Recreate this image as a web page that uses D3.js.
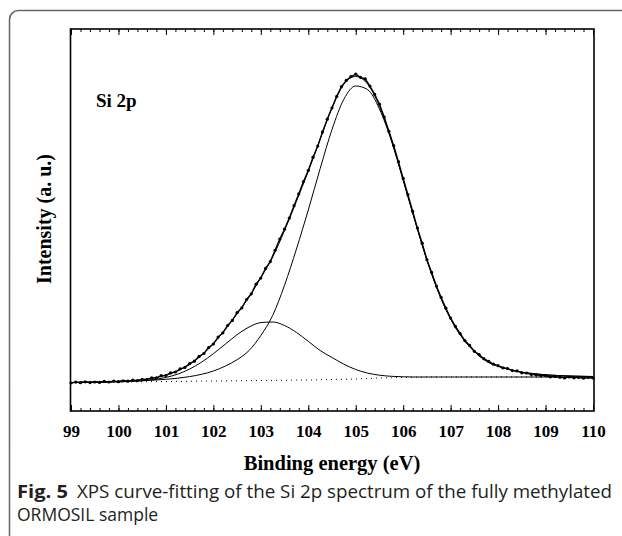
<!DOCTYPE html>
<html>
<head>
<meta charset="utf-8">
<script src="https://cdn.jsdelivr.net/npm/d3@7"></script>
<style>
  body { margin: 0; background: #fff; }
  svg { display: block; }
</style>
</head>
<body>
<svg id="chart"></svg>
<script>
// binding energy grid for the fitted curves (eV)
var fitEnergy = [99, 99.25, 99.5, 99.75, 100, 100.25, 100.5, 100.75, 101, 101.25, 101.5, 101.75,
  102, 102.25, 102.5, 102.75, 103, 103.25, 103.5, 103.75, 104, 104.25, 104.5, 104.75,
  105, 105.25, 105.5, 105.75, 106, 106.25, 106.5, 106.75, 107, 107.25, 107.5, 107.75,
  108, 108.25, 108.5, 108.75, 109, 109.25, 109.5, 109.75, 110]

// background (dotted)
var background = [28.5, 28.6, 28.75, 28.9, 29.0, 29.1, 29.25, 29.4, 29.5, 29.6, 29.75, 29.9,
  30.0, 30.1, 30.25, 30.4, 30.5, 30.6, 30.75, 30.9, 31.0, 31.25, 31.5, 31.75,
  32.0, 32.4, 33.0, 33.3, 33.6, 33.75, 33.9, 33.95, 34, 34, 34, 34,
  34, 34, 34, 34, 34, 34, 34, 34, 34]

// main component, ~105 eV
var peakMain = [28.5, 28.7, 28.95, 29.2, 29.5, 29.8, 30.25, 30.9, 31.7, 32.8, 34.4, 36.7,
  40.0, 44.9, 51.3, 60.4, 75.5, 95.6, 125.8, 161.9, 201.0, 242.3, 281.5, 311.8,
  325.0, 321.4, 302.0, 270.3, 230.6, 189.8, 150.9, 118.0, 92.0, 73.0, 59.5, 50.0,
  44.8, 41.3, 38.8, 37.3, 36.2, 35.5, 35.0, 34.7, 34.5]

// second component, ~103.1 eV
var peakLow = [28.5, 28.6, 28.75, 29.0, 29.2, 29.6, 30.25, 31.5, 33.6, 36.9, 42.0, 48.8,
  57.3, 66.8, 76.3, 83.9, 88.4, 89.0, 85.5, 78.6, 69.7, 60.5, 53.5, 46.8,
  41.5, 37.9, 35.8, 34.7, 34.2, 34.0, 34.0, 34.0, 34, 34, 34, 34,
  34, 34, 34, 34, 34, 34, 34, 34, 34]

// measured spectrum, every 0.1 eV from 99 to 110
var measEnergy = d3.range(0, 111).map(function(i){ return 99 + i / 10 })
var measured = [28.0, 28.9, 28.3, 29.2, 28.4, 29.0, 28.6, 29.6, 29.0, 29.9,
  29.3, 30.2, 29.8, 30.9, 30.4, 31.6, 31.5, 33.1, 33.2, 35.3,
  35.6, 38.1, 39.0, 42.2, 43.6, 47.3, 49.8, 54.6, 57.5, 63.4,
  67.0, 73.9, 78.2, 85.5, 90.6, 98.3, 103.2, 111.5, 117.2, 126.8,
  133.0, 142.6, 149.4, 160.7, 172.0, 181.8, 192.9, 205.3, 217.2, 229.4,
  240.5, 253.8, 265.0, 279.1, 291.8, 303.2, 314.6, 324.4, 330.6, 334.5,
  336.8, 333.7, 332.1, 324.9, 316.6, 306.8, 293.9, 279.6, 265.4, 249.3,
  232.6, 216.4, 199.6, 182.9, 167.8, 151.3, 138.6, 124.9, 113.6, 102.8,
  92.9, 84.6, 77.5, 70.4, 65.6, 59.7, 56.4, 52.3, 49.7, 46.8,
  45.3, 43.2, 42.5, 40.4, 40.1, 38.2, 37.9, 36.6, 36.2, 35.4,
  35.5, 34.2, 34.6, 33.8, 33.1, 34.0, 33.2, 33.6, 32.8, 33.5, 33.0]

var majorTicks = [99, 100, 101, 102, 103, 104, 105, 106, 107, 108, 109, 110]
var minorTicks = d3.range(0, 56).map(function(i){ return 99 + i / 5 })

var screen = {width: 622, height: 536}
var box = {left: 71, right: 593, top: 29, bottom: 411}

var svg = d3.select("#chart")
  .attr("width", screen.width)
  .attr("height", screen.height)

// card outline, cut off at right and bottom
svg.append("rect")
  .attr("x", 9.5).attr("y", 10.5)
  .attr("width", 700).attr("height", 600)
  .attr("rx", 9).attr("ry", 9)
  .attr("fill", "none")
  .attr("stroke", "#666")
  .attr("stroke-width", 1.5)

var xScale = d3.scaleLinear().domain([99, 110]).range([box.left, box.right])
var yScale = d3.scaleLinear().domain([0, 382]).range([box.bottom, box.top])

var serif = "'Liberation Serif', 'Times New Roman', serif"

// ticks
var tickGroup = function(axis, y) {
  var g = svg.append("g").attr("transform", "translate(0," + y + ")").call(axis)
  g.select(".domain").remove()
  g.selectAll("line").attr("stroke", "#000").attr("stroke-width", 1)
  return g
}
tickGroup(d3.axisBottom(xScale).tickValues(minorTicks).tickSize(-3).tickFormat(""), box.bottom)
var bottom = tickGroup(d3.axisBottom(xScale).tickValues(majorTicks).tickSize(-6).tickPadding(14)
  .tickFormat(d3.format("d")), box.bottom)
bottom.selectAll("text")
  .attr("font-family", serif).attr("font-weight", "bold")
  .attr("font-size", 17).attr("fill", "#000")
tickGroup(d3.axisTop(xScale).tickValues(minorTicks).tickSize(-3).tickFormat(""), box.top)
tickGroup(d3.axisTop(xScale).tickValues(majorTicks).tickSize(-6).tickFormat(""), box.top)

// frame
svg.append("rect")
  .attr("x", box.left - 0.5).attr("y", box.top)
  .attr("width", box.right - box.left + 1.5).attr("height", box.bottom - box.top)
  .attr("fill", "none").attr("stroke", "#000").attr("stroke-width", 1.6)

var line = d3.line()
  .x(function(d){ return xScale(d[0]) })
  .y(function(d){ return yScale(d[1]) })
  .curve(d3.curveMonotoneX)

var pairs = function(xs, ys){ return xs.map(function(x, i){ return [x, ys[i]] }) }

svg.append("path")
  .attr("d", line(pairs(fitEnergy, background)))
  .attr("fill", "none").attr("stroke", "#000")
  .attr("stroke-width", 1).attr("stroke-dasharray", "1,4")

var envelope = fitEnergy.map(function(x, i){
  return [x, peakMain[i] + peakLow[i] - background[i]]
})

;[peakMain, peakLow].forEach(function(ys){
  svg.append("path")
    .attr("d", line(pairs(fitEnergy, ys)))
    .attr("fill", "none").attr("stroke", "#000").attr("stroke-width", 1)
})

svg.append("path")
  .attr("d", line(envelope))
  .attr("fill", "none").attr("stroke", "#000").attr("stroke-width", 1)

var meas = pairs(measEnergy, measured)
svg.append("path")
  .attr("d", d3.line()
    .x(function(d){ return xScale(d[0]) })
    .y(function(d){ return yScale(d[1]) })(meas))
  .attr("fill", "none").attr("stroke", "#000").attr("stroke-width", 1.4)

svg.append("g")
  .selectAll("circle")
  .data(meas)
  .enter()
  .append("circle")
  .attr("cx", function(d){ return xScale(d[0]) })
  .attr("cy", function(d){ return yScale(d[1]) })
  .attr("r", 1.6)
  .attr("fill", "#000")

// labels
svg.append("text")
  .attr("x", 96).attr("y", 107)
  .attr("font-family", serif).attr("font-weight", "bold").attr("font-size", 19)
  .text("Si 2p")

svg.append("text")
  .attr("transform", "translate(51,219) rotate(-90)")
  .attr("text-anchor", "middle")
  .attr("font-family", serif).attr("font-weight", "bold").attr("font-size", 20)
  .text("Intensity (a. u.)")

svg.append("text")
  .attr("x", 332).attr("y", 470)
  .attr("text-anchor", "middle")
  .attr("font-family", serif).attr("font-weight", "bold").attr("font-size", 20.5)
  .text("Binding energy (eV)")

var sans = "'Open Sans', 'Noto Sans', sans-serif"
var caption = svg.append("text")
  .attr("y", 498)
  .attr("font-family", sans)
  .attr("font-size", 18).attr("fill", "#231f20")
caption.append("tspan").attr("x", 17).attr("font-weight", "bold")
  .attr("textLength", 51).attr("lengthAdjust", "spacingAndGlyphs").text("Fig. 5")
caption.append("tspan").attr("x", 77)
  .attr("textLength", 535).attr("lengthAdjust", "spacingAndGlyphs")
  .text("XPS curve-fitting of the Si 2p spectrum of the fully methylated")

svg.append("text")
  .attr("x", 17).attr("y", 521)
  .attr("font-family", sans)
  .attr("font-size", 17.5).attr("fill", "#231f20")
  .text("ORMOSIL sample")
</script>
</body>
</html>
